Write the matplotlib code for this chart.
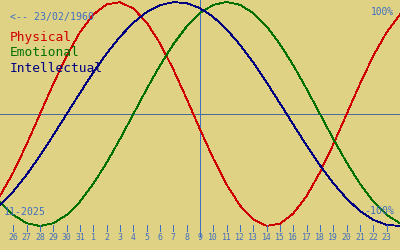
import numpy as np
import matplotlib
matplotlib.use("Agg")
import matplotlib.pyplot as plt

# day labels shown along the bottom (26 Oct .. 23 Nov 2025)
day_labels = ["26", "27", "28", "29", "30", "31", "1", "2", "3", "4", "5",
              "6", "7", "8", "9", "10", "11", "12", "13", "14", "15", "16",
              "17", "18", "19", "20", "21", "22", "23"]
today_idx = 14  # 9 Nov

# daily values, from 25 Oct (index -1) to 24 Nov (index 29)
day_idx = list(range(-1, 30))
physical = [-0.731, -0.520, -0.270, 0.000, 0.270, 0.520, 0.731, 0.888,
            0.979, 0.998, 0.942, 0.817, 0.631, 0.398, 0.136, -0.136,
            -0.398, -0.631, -0.817, -0.942, -0.998, -0.979, -0.888, -0.731,
            -0.520, -0.270, 0.000, 0.270, 0.520, 0.731, 0.888]
emotional = [-0.782, -0.901, -0.975, -1.000, -0.975, -0.901, -0.782, -0.623,
             -0.434, -0.223, 0.000, 0.223, 0.434, 0.623, 0.782, 0.901,
             0.975, 1.000, 0.975, 0.901, 0.782, 0.623, 0.434, 0.223,
             0.000, -0.223, -0.434, -0.623, -0.782, -0.901, -0.975]
intellectual = [-0.815, -0.690, -0.541, -0.372, -0.189, 0.000, 0.189, 0.372,
                0.541, 0.690, 0.815, 0.910, 0.972, 0.999, 0.990, 0.945,
                0.866, 0.756, 0.618, 0.458, 0.282, 0.095, -0.095, -0.282,
                -0.458, -0.618, -0.756, -0.866, -0.945, -0.990, -0.999]

bg = "#e0d285"
blue = "#3f6fc0"
lw = 0.6  # about one pixel
plt.rcParams['font.family'] = ['DejaVu Sans Mono']

fig = plt.figure(figsize=(4, 2.5), dpi=100, facecolor=bg)
ax = fig.add_axes([0, 0, 1, 1])
ax.set_facecolor(bg)
ax.set_xlim(-1, 29)
ax.set_ylim(-1.214, 1.018)
ax.axis('off')

ax.axhline(0, color="#4a6a9a", lw=lw, antialiased=False)
ax.axvline(today_idx, ymin=0.056, ymax=1, color=blue, lw=lw,
           antialiased=False)

ax.plot(day_idx, physical, color="#d00000", lw=lw, antialiased=False)
ax.plot(day_idx, emotional, color="#007000", lw=lw, antialiased=False)
ax.plot(day_idx, intellectual, color="#000080", lw=lw, antialiased=False)

# day ticks and labels
tr = ax.get_xaxis_transform()
for i, lab in enumerate(day_labels):
    ax.plot([i, i], [0.076, 0.1], color=blue, lw=lw, transform=tr,
            antialiased=False)
    ax.text(i, 0.048, lab, color=blue, fontsize=5.9, ha='center',
            va='center', transform=tr)

ax.text(0.025, 0.932, "<-- 23/02/1960", color=blue, fontsize=7.1,
        ha='left', va='center', transform=ax.transAxes)
ax.text(0.025, 0.848, "Physical", color="#d00000", fontsize=9.3,
        ha='left', va='center', transform=ax.transAxes)
ax.text(0.025, 0.788, "Emotional", color="#007000", fontsize=9.3,
        ha='left', va='center', transform=ax.transAxes)
ax.text(0.025, 0.728, "Intellectual", color="#000080", fontsize=9.3,
        ha='left', va='center', transform=ax.transAxes)
ax.text(0.985, 0.952, "100%", color=blue, fontsize=6.9,
        ha='right', va='center', transform=ax.transAxes)
ax.text(0.985, 0.156, "-100%", color=blue, fontsize=7.1,
        ha='right', va='center', transform=ax.transAxes)
ax.text(0.01, 0.152, "11-2025", color=blue, fontsize=7.1,
        ha='left', va='center', transform=ax.transAxes)

fig.savefig("out.png", dpi=100, facecolor=bg)
